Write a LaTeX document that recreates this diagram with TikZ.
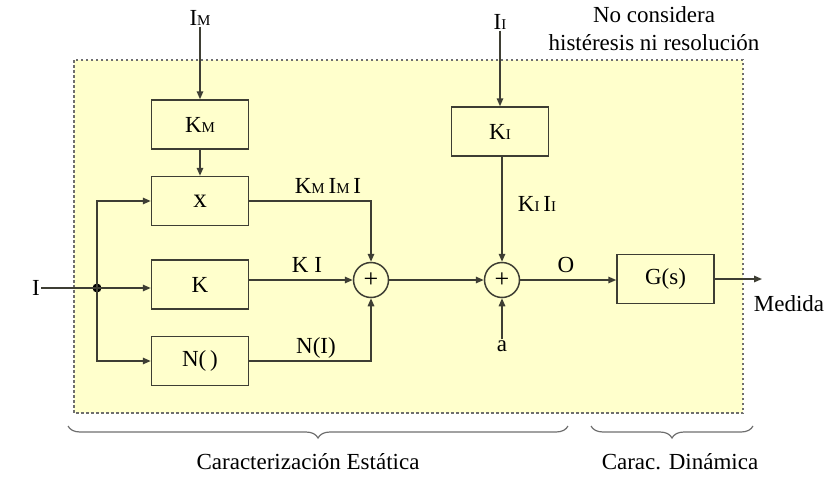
\documentclass[tikz,border=0pt]{standalone}
\usepackage{fontspec}
\setmainfont{Liberation Serif}
\usetikzlibrary{arrows.meta,decorations.pathreplacing,calc}
\definecolor{lncol}{RGB}{62,62,52}
\definecolor{bgyel}{RGB}{255,255,204}
\definecolor{brgray}{RGB}{110,110,110}
\newcommand{\sm}[1]{{\fontsize{15}{15}\selectfont #1}}
\newcommand{\bigtxt}{\fontsize{23}{27}\selectfont}
\tikzset{
  blk/.style={draw=lncol, line width=1.5pt, fill=bgyel, minimum width=97pt, minimum height=49pt, inner sep=0pt, font=\bigtxt},
  sumnode/.style={draw=lncol, line width=1.5pt, circle, minimum size=35pt, inner sep=0pt, font=\fontsize{26}{26}\selectfont},
  lbl/.style={inner sep=1pt, font=\bigtxt},
  conn/.style={draw=lncol, line width=1.5pt, -{Triangle[length=8pt,width=6.5pt]}},
  bracestyle/.style={draw=brgray, line width=1.2pt, decorate, decoration={brace, mirror, amplitude=12pt}},
}
\begin{document}
\begin{tikzpicture}[x=1pt,y=-1pt]
\useasboundingbox (0,0) rectangle (834,490);
% background region
\path[fill=bgyel, draw=brgray, line width=1.4pt, dash pattern=on 2.5pt off 2.5pt] (74,60) rectangle (743,413);

% blocks
\node[blk] (KM) at (200,124.5) {K\sm{M}};
\node[blk] (X) at (200,201) {\fontsize{27}{27}\selectfont x};
\node[blk] (K) at (200,284.5) {K};
\node[blk] (N) at (200,361) {N(\,)};
\node[blk] (KI) at (500,131.5) {K\sm{I}};
\node[blk] (G) at (665.5,279) {G(s)};
\node[sumnode] (s1) at (371,280) {+};
\node[sumnode] (s2) at (502,280) {+};

% inputs / outputs
\node[lbl] (IM) at (200,18) {I\sm{M}};
\node[lbl] (II) at (500,22) {I\sm{I}};
\node[lbl] (Iin) at (36,288) {I};
\node[lbl] (a) at (502,346) {a};
\node[lbl] (Med) at (789,304) {Medida};
\coordinate (out) at (762,279);
\node[lbl, align=center, font=\fontsize{23}{28}\selectfont] (note) at (654,29) {No considera\\histéresis ni resolución};

% junction
\node[circle, fill=black, inner sep=0pt, minimum size=9pt] (dot) at (97,288) {};

% connectors
\draw[conn] (IM) -- (KM);
\draw[conn] (KM) -- (X);
\draw[conn] (Iin) -- (Iin -| K.west);
\draw[conn] (dot.center) |- (X.west);
\draw[conn] (dot.center) |- (N.west);
\draw[conn] (X.east) -| (s1);
\draw[conn] (K.east |- s1) -- (s1);
\draw[conn] (N.east) -| (s1);
\draw[conn] (s1) -- (s2);
\draw[conn] (II) -- (II |- KI.north);
\draw[conn] (KI.south -| s2) -- (s2);
\draw[conn] (a) -- (s2);
\draw[conn] (s2) -- (G.west |- s2);
\draw[conn] (G.east) -- (out);

% signal labels
\node[lbl] (lKMIM) at (328,186) {K\sm{M}\,I\sm{M}\,I};
\node[lbl] (lKI) at (307,265) {K I};
\node[lbl] (lNI) at (316,348) {N(I)};
\node[lbl] (lKIII) at (537,204) {K\sm{I}\,I\sm{I}};
\node[lbl] (lO) at (566,265) {O};

% braces
\draw[bracestyle] (68,426) -- (568,426);
\draw[bracestyle] (591,426) -- (753,426);
\node[lbl] (cest) at (308,462) {Caracterización Estática};
\node[lbl] (cdin) at (680,462) {Carac. Dinámica};
\end{tikzpicture}
\end{document}
